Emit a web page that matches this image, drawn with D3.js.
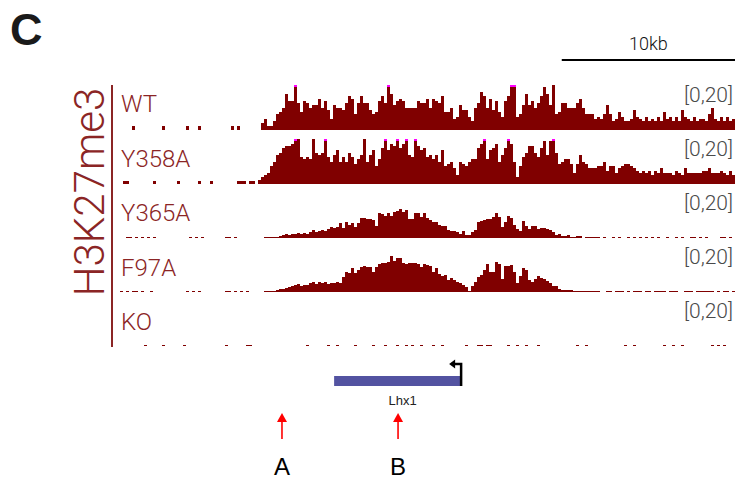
<!DOCTYPE html>
<html>
<head>
<meta charset="utf-8">
<script src="https://cdn.jsdelivr.net/npm/d3@7"></script>
<style>
  body { margin: 0; background: #fff; }
  svg text { font-family: "Liberation Sans", Arial, Helvetica, sans-serif; }
  svg text.light { font-family: Roboto, "Liberation Sans", Arial, sans-serif; font-weight: 300; }
</style>
</head>
<body>
<div id="chart"></div>
<script>
// genomic window in kb, split into equal bins
const regionKb = [0, 35.5];
const binCount = 205;
const scaleBarKb = 10;

const trackNames = ['WT', 'Y358A', 'Y365A', 'F97A', 'KO'];
const rangeLabel = '[0,20]';
const dataMax = 20;
const markLabel = 'H3K27me3';

// coverage per bin, first value sits at bin *Start
const wtStart = 47;
const wtValues = [3,5,2,2,4,7,8,10,16,13,13,21,12,8,13,12,10,11,11,14,10,13,9,5,11,10,10,9,12,15,14,7,12,15,12,12,9,7,8,13,15,12,21,16,11,13,14,13,10,10,10,
  10,13,12,12,14,10,14,13,12,15,8,8,10,5,6,11,9,9,6,4,10,12,17,15,10,14,9,13,8,6,13,15,21,21,6,7,11,16,11,13,10,12,15,19,16,11,20,7,8,12,12,10,10,10,
  12,14,10,7,7,7,5,6,5,7,11,7,4,5,8,6,4,4,5,9,6,5,4,6,4,5,4,6,4,8,5,6,4,6,4,9,6,5,4,6,4,5,5,4,7,10,5,4,6,4,6,4,5];

const y358aStart = 46;
const y358aValues = [2,3,4,5,8,10,13,14,16,17,17,18,21,20,12,11,12,11,20,14,13,14,21,12,10,13,15,10,12,10,14,12,9,11,13,20,10,13,15,8,11,16,21,15,18,17,21,16,18,21,13,12,
  21,17,15,16,12,13,11,13,10,15,8,9,10,7,4,10,9,8,10,11,11,16,18,21,11,15,16,18,10,13,16,21,18,10,3,8,12,14,17,17,14,12,16,19,13,19,21,14,9,10,11,11,9,5,
  9,13,10,9,7,7,7,8,8,10,6,8,8,5,7,8,9,9,8,7,6,5,6,5,6,4,6,5,7,5,5,5,4,6,5,4,7,5,5,5,5,5,6,6,7,5,5,5,6,5,4,6,4];

const y365aStart = 48;
const y365aValues = [0.5,0.5,
  0.6,0.6,0.6,0.7,1.2,2,1.5,2,1.7,2.3,2,2.3,2,2.5,3.5,2.8,3.3,3.5,3.3,4,5,4.5,5,6.5,4.5,7,6,6.5,5,6.5,9,9,8.5,8.5,8,5.5,11,10.5,10,11,10,11.5,12,13,11.5,12.5,8.5,8.5,11,11,9.5,11,9,
  8,7,7,6,5.5,5.5,3.5,3,3.3,2.7,2,3,1.3,1.5,2.5,3.5,7,7.5,7.8,8.5,8.5,9.5,11,9.5,5,7,10,9,6,4,3.2,7.5,5.5,4,5.3,5.5,4,4.5,4.5,3.8,3.5,2.7,1.2,1.8,0.8,1,1.5,0.6,0.6,0.7,0.7,0,0.6,0.6,
  0.6,0.6,0.6,0,0.6,0,0,0.6,0,0.6,0,0,0.6,0,0.6,0,0.6,0,0.6,0,0.6,0,0.6,0,0,0.6,0,0,0.6,0,0.6,0,0,0.6,0.6,0,0.6,0,0.6,0,0,0,0,0.6,0.6,0,0.6,0];

const f97aStart = 48;
const f97aValues = [0.3,0.3,
  0.3,0.4,0.7,1.2,1.2,1.8,2.3,2.7,3.2,3.5,2.8,3.2,3.3,4,4.3,3.5,4.5,4,4.3,3.5,4,4.2,4.5,3.8,6.5,9,8.5,10.5,8.5,10,11,11.5,11,11,9,11,12.5,13,13,13.5,16,14,15,15,13,12.5,13,13,13,12.5,11,12.5,12,
  11.5,9,10.7,8,7,7.4,5.5,6.3,5.2,4.5,4.2,3.3,2.3,0.6,2.6,4.3,6.7,7.4,10,12.5,9,9,13.5,12.3,6,11.7,11.5,12,9,4,7,10.5,10,5.5,4.5,6,7,6.3,6,4.8,4,2.5,2.5,1.2,0.8,0.8,0.8,1,0.5,0.5,0.4,0.5,0.5,0.5,
  0.5,0.5,0.5,0,0,0.4,0.4,0,0.4,0.4,0.4,0,0.4,0,0.4,0.4,0.4,0,0.4,0.4,0,0.4,0.4,0.4,0.4,0,0.4,0.4,0.4,0,0,0.4,0.4,0.4,0,0.4,0.4,0.4,0.4,0.4,0.4,0,0.4,0,0.4,0.4,0,0.4];

const koStart = 0;
const koValues = [];

// isolated low bins (bin index) outside the main signal
const wtDots = [4, 14, 22, 26, 37, 39];
const y358aDots = [1, 2, 11, 19, 26, 30, 39, 40, 41, 43, 44];
const y365aDots = [2, 3, 5, 7, 9, 11, 23, 25, 27, 35, 36, 38];
const f97aDots = [0, 2, 4, 5, 7, 10, 22, 24, 26, 35, 36, 38, 40, 42];
const koDots = [8, 14, 21, 35, 42, 43, 62, 69, 72, 78, 84, 88, 92, 95, 97, 100, 104, 107, 115, 119, 120, 122, 123,
  129, 132, 135, 139, 152, 155, 168, 171, 181, 184, 187, 197, 199, 201];
const dotLevels = [1.8, 1.5, 0.6, 0.5, 0.6];

// annotation
const geneName = 'Lhx1';
const geneKb = [12.36, 19.69];
const siteNames = ['A', 'B'];
const siteKb = [9.35, 16.05];

const width = 735,
    height = 483;

const trackColor = '#800000',
    clipColor = '#ff00ff',
    labelColor = '#8b2525';

function buildTrack(start, values, dots, level) {
    const out = new Array(binCount).fill(0);
    dots.forEach(i => out[i] = level);
    values.forEach((v, j) => out[start + j] = v);
    return out;
}

const tracks = [
    buildTrack(wtStart, wtValues, wtDots, dotLevels[0]),
    buildTrack(y358aStart, y358aValues, y358aDots, dotLevels[1]),
    buildTrack(y365aStart, y365aValues, y365aDots, dotLevels[2]),
    buildTrack(f97aStart, f97aValues, f97aDots, dotLevels[3]),
    buildTrack(koStart, koValues, koDots, dotLevels[4])
];

const svg = d3.select('#chart').append('svg')
    .attr('width', width)
    .attr('height', height);

const binKb = (regionKb[1] - regionKb[0]) / binCount;

const xScale = d3.scaleLinear()
    .domain(regionKb)
    .range([120, 735]);

const trackTop = 85,
    trackHeight = 45,
    trackStep = 54;

// panel letter
svg.append('text')
    .attr('x', 10)
    .attr('y', 45)
    .style('font-size', '45px')
    .style('font-weight', 'bold')
    .style('fill', '#1a1a1a')
    .text('C');

// scale bar
svg.append('line')
    .attr('x1', xScale(regionKb[1] - scaleBarKb))
    .attr('x2', xScale(regionKb[1]))
    .attr('y1', 60)
    .attr('y2', 60)
    .attr('stroke', '#000')
    .attr('stroke-width', 2);

svg.append('text')
    .attr('class', 'light')
    .attr('x', xScale(regionKb[1] - scaleBarKb / 2))
    .attr('y', 50)
    .attr('text-anchor', 'middle')
    .style('font-size', '18px')
    .style('fill', '#111')
    .text(scaleBarKb + 'kb');

// group bracket and mark name
svg.append('line')
    .attr('x1', 112)
    .attr('x2', 112)
    .attr('y1', trackTop)
    .attr('y2', trackTop + trackStep * 4 + trackHeight + 1)
    .attr('stroke', labelColor)
    .attr('stroke-width', 2);

svg.append('text')
    .attr('class', 'light')
    .attr('transform', 'translate(104,' + 192 + ') rotate(-90)')
    .attr('text-anchor', 'middle')
    .style('font-size', '42px')
    .style('fill', labelColor)
    .text(markLabel);

tracks.forEach((values, t) => {
    const base = trackTop + trackHeight + t * trackStep;
    const yScale = d3.scaleLinear()
        .domain([0, dataMax])
        .range([base, base - trackHeight])
        .clamp(true);

    const g = svg.append('g')
        .attr('class', 'track')
        .attr('shape-rendering', 'crispEdges');

    const bins = values.map((v, i) => ({ i: i, v: v })).filter(d => d.v > 0);

    g.selectAll('rect.bar')
        .data(bins)
        .enter()
        .append('rect')
        .attr('class', 'bar')
        .attr('x', d => xScale(d.i * binKb))
        .attr('width', d => xScale((d.i + 1) * binKb) - xScale(d.i * binKb))
        .attr('y', d => yScale(d.v))
        .attr('height', d => base - yScale(d.v))
        .attr('fill', trackColor);

    // values above the range get a magenta cap
    g.selectAll('rect.clip')
        .data(bins.filter(d => d.v > dataMax))
        .enter()
        .append('rect')
        .attr('class', 'clip')
        .attr('x', d => xScale(d.i * binKb))
        .attr('width', d => xScale((d.i + 1) * binKb) - xScale(d.i * binKb))
        .attr('y', yScale(dataMax))
        .attr('height', 2)
        .attr('fill', clipColor);

    svg.append('text')
        .attr('class', 'light')
        .attr('x', 121)
        .attr('y', 112 + t * 54.5)
        .style('font-size', '24px')
        .style('fill', labelColor)
        .text(trackNames[t]);

    svg.append('text')
        .attr('class', 'light')
        .attr('x', 733)
        .attr('y', 102 + t * trackStep)
        .attr('text-anchor', 'end')
        .style('font-size', '21px')
        .style('fill', '#4a4a4a')
        .text(rangeLabel);
});

// gene model
const geneY = 381;
svg.append('rect')
    .attr('x', xScale(geneKb[0]))
    .attr('y', geneY - 5)
    .attr('width', xScale(geneKb[1]) - xScale(geneKb[0]))
    .attr('height', 10)
    .attr('fill', '#5353a1');

const tss = xScale(geneKb[1]);
svg.append('path')
    .attr('d', `M${tss},${geneY + 5}V364H${tss - 7}`)
    .attr('fill', 'none')
    .attr('stroke', '#000')
    .attr('stroke-width', 2.5);

svg.append('path')
    .attr('d', `M${tss - 12},364l6,-4.5v9z`)
    .attr('fill', '#000');

svg.append('text')
    .attr('x', xScale((geneKb[0] + geneKb[1]) / 2) + 5)
    .attr('y', 405)
    .attr('text-anchor', 'middle')
    .style('font-size', '13px')
    .style('fill', '#222')
    .text(geneName);

// marked sites
siteKb.forEach((kb, i) => {
    const sx = xScale(kb);
    svg.append('line')
        .attr('x1', sx)
        .attr('x2', sx)
        .attr('y1', 420)
        .attr('y2', 439)
        .attr('stroke', '#ff0000')
        .attr('stroke-width', 1.6);

    svg.append('path')
        .attr('d', `M${sx},413l-5,9h10z`)
        .attr('fill', '#ff0000');

    svg.append('text')
        .attr('x', sx)
        .attr('y', 475)
        .attr('text-anchor', 'middle')
        .style('font-size', '24px')
        .style('fill', '#000')
        .text(siteNames[i]);
});
</script>
</body>
</html>
